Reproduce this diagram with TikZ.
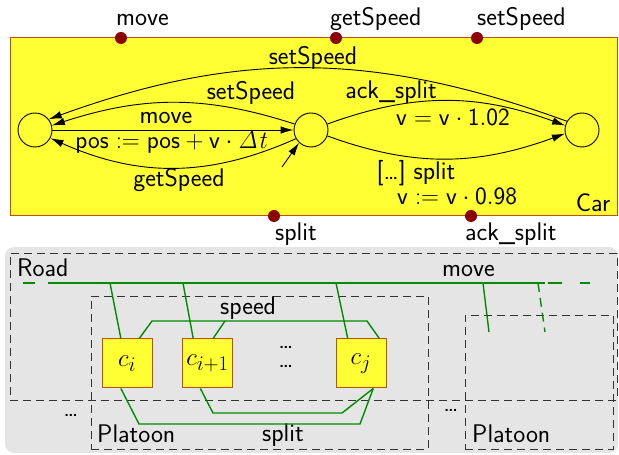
\documentclass[tikz,border=0pt]{standalone}
\usetikzlibrary{arrows.meta,calc}
\definecolor{carYellow}{RGB}{255,255,51}
\definecolor{carBorder}{RGB}{190,80,20}
\definecolor{portRed}{RGB}{140,0,0}
\definecolor{busGreen}{RGB}{0,140,0}
\definecolor{bgGray}{RGB}{229,229,229}
\definecolor{dashGray}{RGB}{50,50,50}
\newcommand{\carsubscr}[1]{\mbox{\fontsize{20.74}{24}\selectfont$#1$}}
\begin{document}
\begin{tikzpicture}[x=1pt,y=1pt,
  every node/.style={font=\fontsize{25.5}{29}\selectfont\sffamily, inner sep=0pt},
  state/.style={circle, draw, minimum size=34pt, inner sep=0pt, line width=0.9pt},
  port/.style={circle, fill=portRed, minimum size=12pt, inner sep=0pt},
  trans/.style={line width=0.9pt, -{Latex[length=13pt,width=7.5pt]}},
  carbox/.style={draw=carBorder, fill=carYellow, line width=1pt, minimum width=50pt, minimum height=49pt, font=\fontsize{24.88}{29}\selectfont},
  region/.style={draw=dashGray, dash pattern=on 8pt off 5pt, line width=0.9pt},
  bus/.style={draw=busGreen, line width=1.4pt},
  lbl/.style={anchor=base west},
]
\useasboundingbox (0,0) rectangle (619,455);

% ---------- Car automaton ----------
\node (car) [draw=carBorder, fill=carYellow, line width=1pt, minimum width=607pt, minimum height=178pt] at (313.5,328) {};
\node[port] (pmove) at (121,417) {};
\node[port] (pget) at (336,417) {};
\node[port] (pset) at (477,417) {};
\node[port] (psplit) at (274,239) {};
\node[port] (pack) at (471,239) {};
\node[lbl] (lmove) at (116,429) {move};
\node[lbl] (lget) at (330,429) {getSpeed};
\node[lbl] (lset) at (477,429) {setSpeed};
\node[lbl] (lsplit) at (275,214) {split};
\node[lbl] (lack) at (465,214) {ack\_split};
\node (carname) at (593,252) {Car};

\node[state] (L) at (35,325) {};
\node[state] (M) at (311,325) {};
\node[state] (R) at (582,325) {};

\draw[trans] (L) -- (M);
\node (tmove) at (166,337) {move};
\node (tpos) at (172,313) {$\mathsf{pos} \mathrel{:=} \mathsf{pos} + \mathsf{v}\cdot \mathit{\Delta t}$};

\draw[trans] (M.210) to[out=204,in=-24] (L.-28);
\node (tget) at (179,275) {getSpeed};

\draw[trans] (M.160) to[out=162,in=18] (L.15);
\node (tset1) at (251,362) {setSpeed};

\draw[trans] (R.150) to[out=160,in=20] (L.38);
\node (tset2) at (313,397) {setSpeed};

\draw[trans] (M.20) to[out=20,in=160] (R.165);
\node (tack) at (391,363) {ack\_split};
\node (tack2) at (453,338) {$\mathsf{v} = \mathsf{v}\cdot \mathsf{1.02}$};

\draw[trans] (M.-20) to[out=-20,in=-160] (R.-168);
\node (tsplit) at (416,282) {[\dots] split};
\node (tsplit2) at (457,259) {$\mathsf{v} \mathrel{:=} \mathsf{v}\cdot \mathsf{0.98}$};

\coordinate (init) at (282,288);
\draw[trans] (init) -- (M.227);

% ---------- Road / Platoon ----------
\node (bg) [fill=bgGray, rounded corners=9pt, minimum width=613pt, minimum height=206pt] at (311.5,105) {};
\node (road) [region, minimum width=607pt, minimum height=147pt] at (313.5,128.5) {};
\node (plat1) [region, minimum width=337pt, minimum height=153pt] at (259.5,82.5) {};
\node (plat2) [region, minimum width=148pt, minimum height=134pt] at (539,73) {};
\node[lbl] (lroad) at (17,178) {Road};
\node[lbl] (lplat1) at (97,12) {Platoon};
\node[lbl] (lplat2) at (472,12) {Platoon};
\node[lbl] (lbusmove) at (442,178) {move};
\node[lbl] (lspeed) at (220,140) {speed};
\node[lbl] (lbsplit) at (262,13) {split};
\node (dots1) at (71,40) {\dots};
\node (dots2) at (451,45) {\dots};
\node (dots3) [align=center, font=\fontsize{25.5}{19}\selectfont\sffamily] at (286,98) {\dots\\\dots};

\node[carbox] (ci) at (127,91.5) {$c_{\carsubscr{i}}$};
\node[carbox] (cii) at (207.5,91.5) {$c_{\carsubscr{i{+}1}}$};
\node[carbox] (cj) at (361,91.5) {$c_{\carsubscr{j}}$};

% bus
\coordinate (busL) at (23,172);
\coordinate (busA) at (48,172);
\coordinate (busB) at (545,172);
\coordinate (busC) at (548,172);
\coordinate (busR) at (590,172);
\draw[bus, dash pattern=on 12pt off 13pt] (busL) -- (busA);
\draw[bus] (busA) -- (busB);
\draw[bus, dash pattern=on 14pt off 18pt] (busC) -- (busR);

\draw[bus] (110,172) -- ($(ci.north west)!0.38!(ci.north east)$);
\draw[bus] (183,172) -- ($(cii.north west)!0.22!(cii.north east)$);
\draw[bus] (336,172) -- ($(cj.north west)!0.24!(cj.north east)$);
\coordinate (p2a) at (489,123);
\coordinate (p2b) at (545,123);
\draw[bus] (483,172) -- (p2a);
\draw[bus, dash pattern=on 9pt off 6pt] (538,172) -- (p2b);

% speed
\draw[bus] ($(ci.north west)!0.74!(ci.north east)$) -- (152,134) -- (367,134) -- ($(cj.north west)!0.86!(cj.north east)$);
\draw[bus] ($(cii.north west)!0.61!(cii.north east)$) -- (225,134);

% split
\coordinate (cjb) at ($(cj.south west)!0.74!(cj.south east)$);
\draw[bus] ($(ci.south west)!0.38!(ci.south east)$) -- (139,31) -- (360,31) -- (cjb);
\draw[bus] ($(cii.south west)!0.36!(cii.south east)$) -- (213,42) -- (342,42) -- (cjb);
\end{tikzpicture}
\end{document}
